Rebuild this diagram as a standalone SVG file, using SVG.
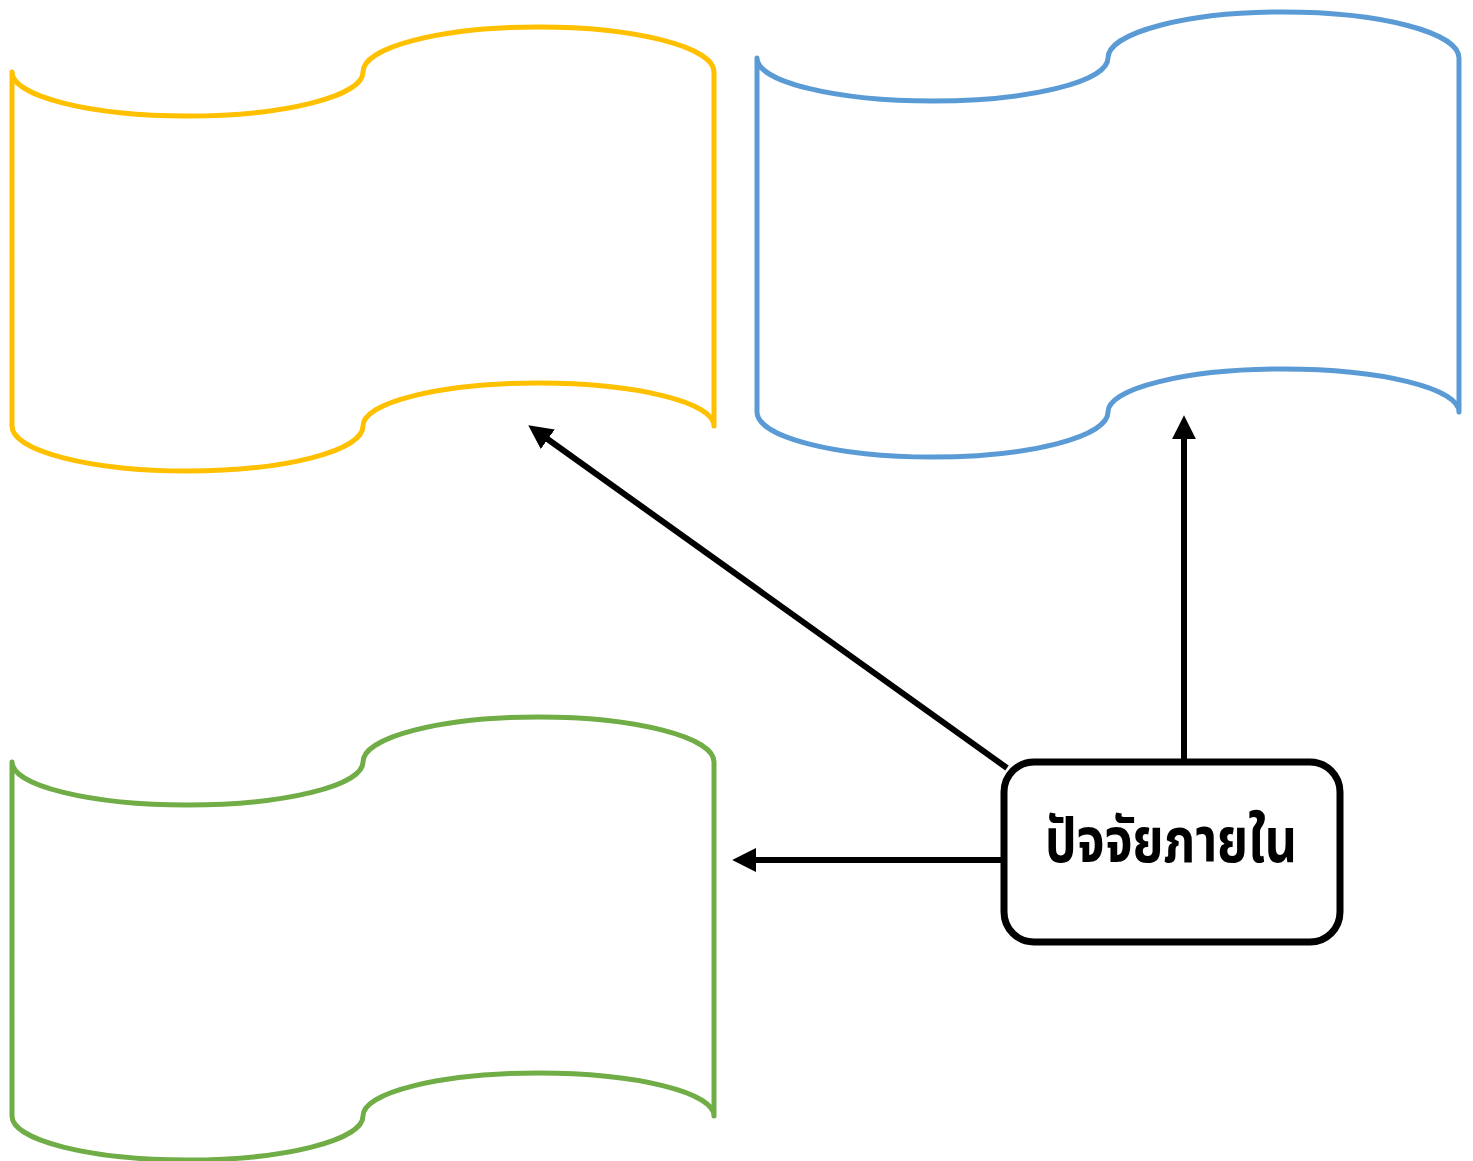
<svg xmlns="http://www.w3.org/2000/svg" width="1473" height="1161" viewBox="0 0 1473 1161">
<style>
.wave{fill:none;stroke-width:5;stroke-linejoin:round}
.conn{stroke:#000;stroke-width:6;fill:none}
.lbl{font-family:"Noto Sans Thai","Leelawadee UI",Tahoma,"DejaVu Sans",sans-serif;font-weight:bold;font-size:52px;fill:#000}
</style>
<defs>
<marker id="ah" markerUnits="userSpaceOnUse" markerWidth="24" markerHeight="24" refX="2" refY="11" orient="auto" viewBox="0 0 22 22">
<path d="M0,0 L22,11 L0,22 Z" fill="#000"/>
</marker>
</defs>
<rect width="1473" height="1161" fill="#fff"/>
<g id="wave-yellow">
<path class="wave" stroke="#FFC000" d="M12,72 A175.5,44 0 0 0 363,72 A175.5,45 0 0 1 714,72 L714,426 A175.5,43 0 0 0 363,426 A175.5,45 0 0 1 12,426 Z"/>
</g>
<g id="wave-blue">
<path class="wave" stroke="#5B9BD5" d="M757,58 A175.5,43 0 0 0 1108,58 A175.5,46 0 0 1 1459,58 L1459,412 A175.5,43 0 0 0 1108,412 A175.5,45 0 0 1 757,412 Z"/>
</g>
<g id="wave-green">
<path class="wave" stroke="#70AD47" d="M12,762 A175.5,43 0 0 0 363,762 A175.5,45 0 0 1 714,762 L714,1116 A175.5,43 0 0 0 363,1116 A175.5,44 0 0 1 12,1116 Z"/>
</g>
<g id="connectors">
<line class="conn" x1="1007" y1="768" x2="546" y2="438" marker-end="url(#ah)"/>
<line class="conn" x1="1184" y1="762" x2="1184" y2="437" marker-end="url(#ah)"/>
<line class="conn" x1="1004" y1="860" x2="754" y2="860" marker-end="url(#ah)"/>
</g>
<g id="internal-factors">
<rect x="1004" y="762" width="336" height="180" rx="30" ry="30" fill="#fff" stroke="#000" stroke-width="7"/>
<text class="lbl" transform="translate(1171,862) scale(0.96,1.2)" x="0" y="0" text-anchor="middle">ปัจจัยภายใน</text>
</g>
</svg>
